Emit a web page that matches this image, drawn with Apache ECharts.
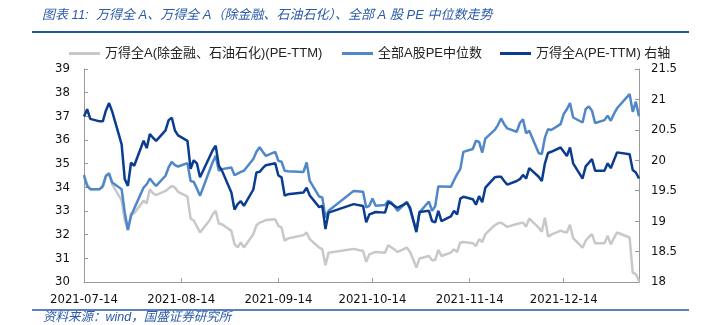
<!DOCTYPE html>
<html><head><meta charset="utf-8">
<script src="https://cdn.jsdelivr.net/npm/echarts/dist/echarts.min.js"></script>
<style>html,body{margin:0;padding:0;background:#fff}#c{width:704px;height:325px}</style>
</head><body><div id="c"></div>
<script>
const dates = [
"2021-07-14","2021-07-15","2021-07-16","2021-07-19","2021-07-20","2021-07-21","2021-07-22","2021-07-23","2021-07-26","2021-07-27","2021-07-28","2021-07-29","2021-07-30",
"2021-08-02","2021-08-03","2021-08-04","2021-08-05","2021-08-06","2021-08-09","2021-08-10","2021-08-11","2021-08-12","2021-08-13","2021-08-16","2021-08-17","2021-08-18","2021-08-19","2021-08-20","2021-08-23","2021-08-24","2021-08-25","2021-08-26","2021-08-27","2021-08-30","2021-08-31",
"2021-09-01","2021-09-02","2021-09-03","2021-09-06","2021-09-07","2021-09-08","2021-09-09","2021-09-10","2021-09-13","2021-09-14","2021-09-15","2021-09-16","2021-09-17","2021-09-22","2021-09-23","2021-09-24","2021-09-27","2021-09-28","2021-09-29","2021-09-30",
"2021-10-08","2021-10-11","2021-10-12","2021-10-13","2021-10-14","2021-10-15","2021-10-18","2021-10-19","2021-10-20","2021-10-21","2021-10-22","2021-10-25","2021-10-26","2021-10-27","2021-10-28","2021-10-29",
"2021-11-01","2021-11-02","2021-11-03","2021-11-04","2021-11-05","2021-11-08","2021-11-09","2021-11-10","2021-11-11","2021-11-12","2021-11-15","2021-11-16","2021-11-17","2021-11-18","2021-11-19","2021-11-22","2021-11-23","2021-11-24","2021-11-25","2021-11-26","2021-11-29","2021-11-30",
"2021-12-01","2021-12-02","2021-12-03","2021-12-06","2021-12-07","2021-12-08","2021-12-09","2021-12-10","2021-12-13","2021-12-14","2021-12-15","2021-12-16","2021-12-17","2021-12-20","2021-12-21","2021-12-22","2021-12-23","2021-12-24","2021-12-27","2021-12-28","2021-12-29","2021-12-30","2021-12-31",
"2022-01-04","2022-01-05","2022-01-06","2022-01-07"
];
// 万得全A(除金融、石油石化)(PE-TTM) - left axis
const exFinPetro = [
34.42,34.15,33.92,33.92,34.0,34.46,34.56,34.13,33.45,32.6,32.2,32.91,32.91,
33.43,33.33,33.92,33.75,33.67,33.85,33.95,34.06,33.99,33.81,33.61,32.68,32.6,32.35,32.09,32.6,32.85,33.01,32.46,32.44,32.16,31.6,
31.46,31.67,31.46,32.02,32.40,32.51,32.55,32.62,32.65,32.37,32.30,31.74,31.84,31.98,32.09,31.81,31.46,31.38,30.71,31.24,
31.4,31.31,30.85,31.17,31.22,31.27,31.24,31.55,31.47,31.37,31.27,31.45,31.27,30.95,30.61,30.99,
31.10,30.92,30.93,31.36,31.10,31.24,31.38,31.27,31.67,31.69,31.64,31.52,31.81,31.69,32.02,32.40,32.48,32.51,32.42,32.33,32.45,32.48,
32.51,32.34,32.68,32.3,32.12,32.72,31.92,32.0,32.17,32.12,32.09,32.42,31.85,31.45,31.74,31.9,32.02,31.64,31.64,31.95,31.59,31.85,32.09,
31.88,30.40,30.33,30.04
];
// 全部A股PE中位数 - left axis
const medianPE = [
34.52,34.05,33.92,33.92,34.06,34.49,34.59,34.2,33.92,32.94,32.2,32.79,33.1,
33.99,34.13,34.37,34.2,34.06,34.49,34.85,35.08,34.94,34.88,35.02,34.27,34.23,33.95,33.64,34.7,35.05,35.33,34.7,34.77,34.84,34.51,
34.58,34.65,34.7,35.2,35.5,35.69,35.5,35.33,35.5,35.12,35.08,34.7,34.68,34.65,35.05,34.27,33.61,33.57,32.72,33.01,
33.85,33.81,33.15,33.22,33.53,33.22,33.25,33.43,33.36,33.2,33.01,33.39,33.05,32.6,32.16,32.94,
33.4,33.01,33.2,34.04,34.04,34.02,34.3,34.56,34.77,35.5,35.62,35.97,35.92,35.47,36.06,36.43,36.63,36.91,36.67,36.49,36.35,36.72,
36.88,36.29,36.39,35.45,35.4,36.11,36.46,36.42,36.67,37.1,37.3,37.56,36.95,36.74,37.31,37.42,37.24,36.72,36.84,37.03,36.81,37.1,37.34,
37.94,37.19,37.62,37.0
];
// 万得全A(PE-TTM) - right axis
const allA = [
20.72,20.84,20.68,20.64,20.64,20.82,20.94,20.80,20.26,19.69,19.58,19.96,19.91,
20.32,20.20,20.43,20.37,20.32,20.49,20.66,20.70,20.49,20.41,20.32,19.86,20.00,19.95,19.72,20.05,20.16,20.24,19.91,19.83,19.47,19.19,
19.28,19.33,19.25,19.52,19.80,19.81,19.87,19.92,19.95,19.75,19.72,19.42,19.44,19.47,19.55,19.42,19.23,19.25,18.87,19.14,
19.28,19.25,18.98,19.11,19.13,19.15,19.14,19.31,19.29,19.25,19.22,19.30,19.22,19.02,18.82,19.15,
19.17,19.00,18.98,19.17,19.00,19.08,19.17,19.11,19.37,19.40,19.36,19.27,19.41,19.31,19.55,19.72,19.73,19.73,19.66,19.60,19.66,19.69,
19.76,19.70,19.87,19.73,19.66,19.95,20.12,20.14,20.21,20.14,20.07,20.21,19.95,19.70,19.90,19.96,20.02,19.83,19.83,19.95,19.87,20.00,20.13,
20.10,19.84,19.80,19.70
];
const xTickDates = ["2021-07-14","2021-08-14","2021-09-14","2021-10-14","2021-11-14","2021-12-14"];
const xStart = "2021-07-14", xEnd = "2022-01-07";
const seriesNames = ["万得全A(除金融、石油石化)(PE-TTM)","全部A股PE中位数","万得全A(PE-TTM) 右轴"];
const titleText = "图表 11:  万得全 A、万得全 A（除金融、石油石化）、全部 A 股 PE 中位数走势";
const sourceText = "资料来源：wind，国盛证券研究所";

function ts(s){const p=s.split('-').map(Number);return Date.UTC(p[0],p[1]-1,p[2]);}
function pad(n){return (n<10?'0':'')+n;}
function fmt(v){const d=new Date(v);return d.getUTCFullYear()+'-'+pad(d.getUTCMonth()+1)+'-'+pad(d.getUTCDate());}

const numFont = "'DejaVu Sans Condensed','Liberation Sans',Arial,sans-serif";
const cjkFont = "'Liberation Sans','Noto Sans CJK SC',sans-serif";
const axisGray = '#9a9a9a';
const blue = '#2b5ba8';
const colors = ['#c8c8c8','#4f87c8','#0a3d8f'];

const chart = echarts.init(document.getElementById('c'), null, {renderer:'canvas'});
const tickTs = xTickDates.map(ts);
function mk(vals){return dates.map((d,i)=>[ts(d),vals[i]]);}

const legendBase = (name, left) => ({
  data:[{name:name, icon:'rect'}], left:left, top:42, itemWidth:31, itemHeight:3, itemGap:0,
  textStyle:{fontSize:13, color:'#222', fontFamily:cjkFont}, selectedMode:false
});

chart.setOption({
  animation:false,
  color:colors,
  grid:{left:84, right:65, top:69, bottom:43, containLabel:false},
  legend:[legendBase(seriesNames[0],64), legendBase(seriesNames[1],337), legendBase(seriesNames[2],495)],
  graphic:[
    {type:'text', left:42, top:9, style:{text:titleText, fill:blue, fontSize:13, fontStyle:'italic', fontFamily:cjkFont}},
    {type:'line', shape:{x1:32,y1:32,x2:689,y2:32}, style:{stroke:'#2456a6', lineWidth:2}},
    {type:'line', shape:{x1:32,y1:310,x2:689,y2:310}, style:{stroke:'#2456a6', lineWidth:1.5}},
    {type:'text', left:43, top:311, style:{text:sourceText, fill:blue, fontSize:12.5, fontStyle:'italic', fontFamily:cjkFont}}
  ],
  xAxis:{
    type:'value', min:ts(xStart), max:ts(xEnd),
    axisLine:{lineStyle:{color:axisGray, width:1}},
    axisTick:{show:true, inside:true, length:4, customValues:tickTs, lineStyle:{color:axisGray}},
    axisLabel:{customValues:tickTs, formatter:fmt, fontSize:13, color:'#111', margin:11, fontFamily:numFont, hideOverlap:false},
    splitLine:{show:false}
  },
  yAxis:[
    {type:'value', position:'left', min:30, max:39, interval:1,
     axisLine:{show:true, lineStyle:{color:axisGray}},
     axisTick:{show:true, inside:true, length:4, lineStyle:{color:axisGray}},
     axisLabel:{fontSize:13, color:'#111', margin:14, fontFamily:numFont},
     splitLine:{show:false}},
    {type:'value', position:'right', min:18, max:21.5, interval:0.5,
     axisLine:{show:true, lineStyle:{color:axisGray}},
     axisTick:{show:true, inside:true, length:4, lineStyle:{color:axisGray}},
     axisLabel:{fontSize:13, color:'#111', margin:12, fontFamily:numFont},
     splitLine:{show:false}}
  ],
  series:[
    {name:seriesNames[0], type:'line', yAxisIndex:0, data:mk(exFinPetro), showSymbol:false, symbol:'none', lineStyle:{width:2.5, color:colors[0]}, itemStyle:{color:colors[0]}},
    {name:seriesNames[1], type:'line', yAxisIndex:0, data:mk(medianPE), showSymbol:false, symbol:'none', lineStyle:{width:2.5, color:colors[1]}, itemStyle:{color:colors[1]}},
    {name:seriesNames[2], type:'line', yAxisIndex:1, data:mk(allA), showSymbol:false, symbol:'none', lineStyle:{width:2.5, color:colors[2]}, itemStyle:{color:colors[2]}}
  ]
});
</script></body></html>
